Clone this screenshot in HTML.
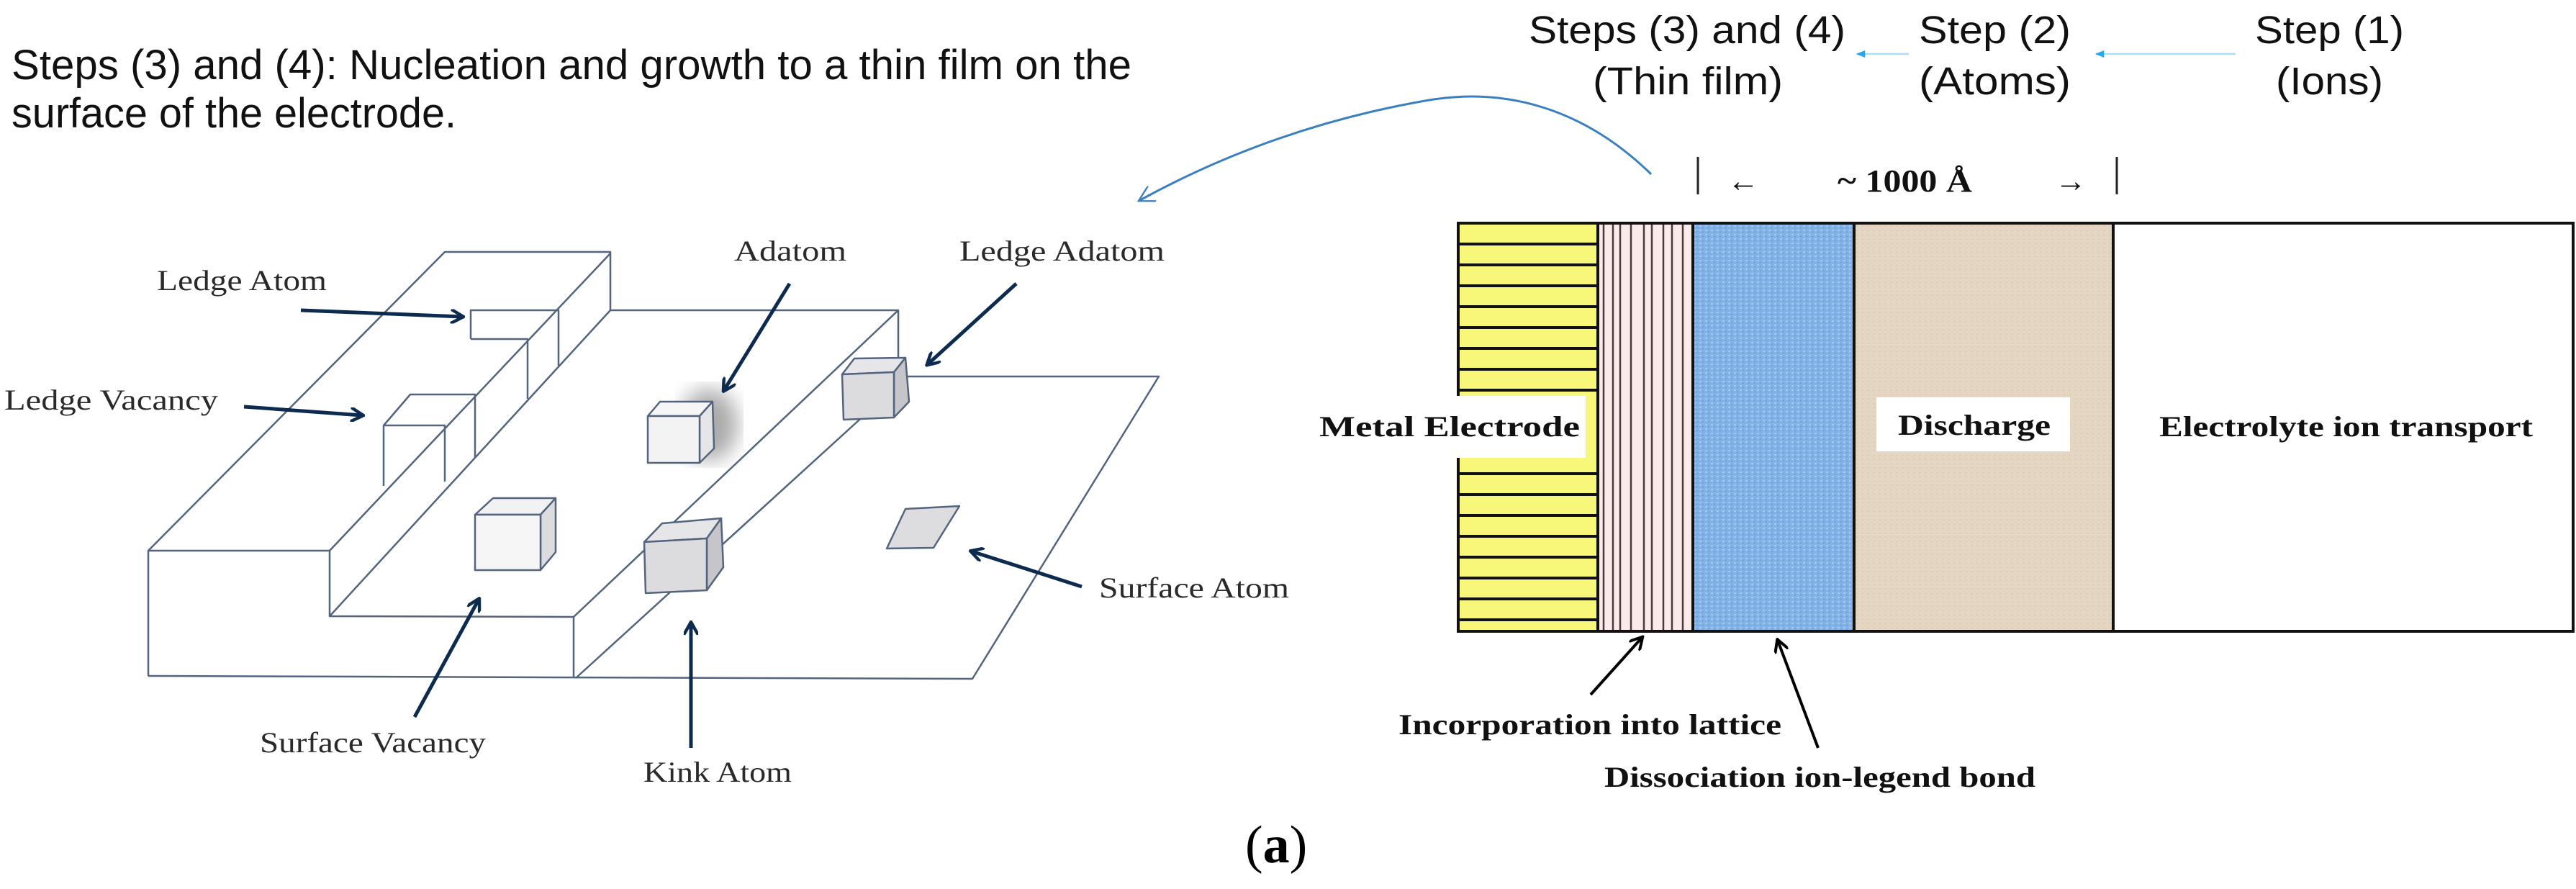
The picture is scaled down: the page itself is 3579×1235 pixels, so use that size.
<!DOCTYPE html>
<html><head><meta charset="utf-8"><style>
html,body{margin:0;padding:0;background:#fff;}
svg{display:block;}
</style></head><body>
<svg width="3579" height="1235" viewBox="0 0 3579 1235" xmlns="http://www.w3.org/2000/svg">
<defs>
<filter id="blur"><feGaussianBlur stdDeviation="14"/></filter>
<marker id="nav" viewBox="0 0 10 10" refX="8" refY="5" markerWidth="4" markerHeight="4" orient="auto"><path d="M0,0 L9,5 L0,10" fill="none" stroke="#0d2a4f" stroke-width="2.2"/></marker>
<marker id="blk" viewBox="0 0 10 10" refX="8" refY="5" markerWidth="5" markerHeight="5" orient="auto"><path d="M0,0 L9,5 L0,10" fill="none" stroke="#000" stroke-width="2"/></marker>
<marker id="lb" viewBox="0 0 10 10" refX="9" refY="5" markerWidth="5" markerHeight="5" orient="auto"><path d="M0,1 L10,5 L0,9 z" fill="#2aa8e8"/></marker>
<marker id="cb" viewBox="0 0 10 10" refX="8" refY="5" markerWidth="8" markerHeight="8" orient="auto"><path d="M0,0 L9,5 L0,10" fill="none" stroke="#3a7fc0" stroke-width="1"/></marker>
<pattern id="blue" width="8" height="6" patternUnits="userSpaceOnUse"><rect width="8" height="6" fill="#82b2e6"/><rect x="1" y="1" width="3" height="2" fill="#a4c8f0"/><rect x="5" y="4" width="2" height="1" fill="#5f93d0"/></pattern>
<pattern id="beige" width="8" height="6" patternUnits="userSpaceOnUse"><rect width="8" height="6" fill="#e4d6c3"/><rect x="2" y="2" width="3" height="1" fill="#d8c8b2"/></pattern>
</defs>

<!-- top-left text -->
<g font-family="Liberation Sans, Arial, sans-serif" font-size="58" fill="#111">
<text x="16" y="110" textLength="1556" lengthAdjust="spacingAndGlyphs">Steps (3) and (4): Nucleation and growth to a thin film on the</text>
<text x="16" y="177" textLength="618" lengthAdjust="spacingAndGlyphs">surface of the electrode.</text>
</g>

<!-- top right step labels -->
<g font-family="Liberation Sans, Arial, sans-serif" font-size="54" fill="#111">
<text x="2124" y="60" textLength="440" lengthAdjust="spacingAndGlyphs">Steps (3) and (4)</text>
<text x="2213" y="131" textLength="264" lengthAdjust="spacingAndGlyphs">(Thin film)</text>
<text x="2666" y="60" textLength="211" lengthAdjust="spacingAndGlyphs">Step (2)</text>
<text x="2666" y="131" textLength="211" lengthAdjust="spacingAndGlyphs">(Atoms)</text>
<text x="3133" y="60" textLength="207" lengthAdjust="spacingAndGlyphs">Step (1)</text>
<text x="3162" y="131" textLength="149" lengthAdjust="spacingAndGlyphs">(Ions)</text>
</g>
<line x1="3106" y1="75" x2="2912" y2="75" stroke="#aedcf5" stroke-width="2.5" marker-end="url(#lb)"/>
<line x1="2652" y1="75" x2="2580" y2="75" stroke="#aedcf5" stroke-width="2.5" marker-end="url(#lb)"/>

<!-- blue curve -->
<path d="M2294,242 C2200,150 2090,120 1980,140 C1820,168 1690,220 1584,278" fill="none" stroke="#3a7fc0" stroke-width="3" marker-end="url(#cb)"/>

<!-- dimension -->
<g font-family="Liberation Serif, serif" font-weight="bold" fill="#111">
<line x1="2359" y1="218" x2="2359" y2="270" stroke="#222" stroke-width="3"/>
<line x1="2941" y1="218" x2="2941" y2="270" stroke="#222" stroke-width="3"/>
<text x="2400" y="266" font-size="44" font-weight="normal">←</text>
<text x="2553" y="266" font-size="44" textLength="187" lengthAdjust="spacingAndGlyphs">~ 1000 Å</text>
<text x="2855" y="266" font-size="44" font-weight="normal">→</text>
</g>

<!-- layered rectangle -->
<rect x="2026" y="310" width="194" height="567" fill="#f7f77a"/>
<g stroke="#111" stroke-width="4">
<line x1="2026" y1="339" x2="2220" y2="339"/><line x1="2026" y1="368" x2="2220" y2="368"/>
<line x1="2026" y1="397" x2="2220" y2="397"/><line x1="2026" y1="426" x2="2220" y2="426"/>
<line x1="2026" y1="455" x2="2220" y2="455"/><line x1="2026" y1="484" x2="2220" y2="484"/>
<line x1="2026" y1="513" x2="2220" y2="513"/><line x1="2026" y1="542" x2="2220" y2="542"/>
<line x1="2026" y1="658" x2="2220" y2="658"/><line x1="2026" y1="687" x2="2220" y2="687"/>
<line x1="2026" y1="716" x2="2220" y2="716"/><line x1="2026" y1="745" x2="2220" y2="745"/>
<line x1="2026" y1="774" x2="2220" y2="774"/><line x1="2026" y1="803" x2="2220" y2="803"/>
<line x1="2026" y1="832" x2="2220" y2="832"/><line x1="2026" y1="861" x2="2220" y2="861"/>
</g>
<rect x="2220" y="310" width="132" height="567" fill="#fbeaea"/>
<g stroke="#4a3a3a" stroke-width="2.5">
<line x1="2228" y1="310" x2="2228" y2="877"/><line x1="2241" y1="310" x2="2241" y2="877"/>
<line x1="2251" y1="310" x2="2251" y2="877"/><line x1="2266" y1="310" x2="2266" y2="877"/>
<line x1="2284" y1="310" x2="2284" y2="877"/><line x1="2295" y1="310" x2="2295" y2="877"/>
<line x1="2311" y1="310" x2="2311" y2="877"/><line x1="2323" y1="310" x2="2323" y2="877"/>
<line x1="2338" y1="310" x2="2338" y2="877"/>
</g>
<rect x="2352" y="310" width="224" height="567" fill="url(#blue)"/>
<rect x="2576" y="310" width="360" height="567" fill="url(#beige)"/>
<rect x="2026" y="310" width="1549" height="567" fill="none" stroke="#111" stroke-width="4"/>
<g stroke="#111" stroke-width="4">
<line x1="2220" y1="310" x2="2220" y2="877"/><line x1="2352" y1="310" x2="2352" y2="877"/>
<line x1="2576" y1="310" x2="2576" y2="877"/><line x1="2936" y1="310" x2="2936" y2="877"/>
</g>
<rect x="1826" y="550" width="377" height="86" fill="#fff"/>
<rect x="2607" y="552" width="269" height="75" fill="#fff"/>
<g font-family="Liberation Serif, serif" font-weight="bold" font-size="40" fill="#111">
<text x="1833" y="606" textLength="362" lengthAdjust="spacingAndGlyphs">Metal Electrode</text>
<text x="2637" y="604" textLength="212" lengthAdjust="spacingAndGlyphs">Discharge</text>
<text x="3000" y="606" textLength="519" lengthAdjust="spacingAndGlyphs">Electrolyte ion transport</text>
<text x="1943" y="1020" textLength="532" lengthAdjust="spacingAndGlyphs">Incorporation into lattice</text>
<text x="2229" y="1093" textLength="599" lengthAdjust="spacingAndGlyphs">Dissociation ion-legend bond</text>
</g>
<line x1="2210" y1="965" x2="2281" y2="886" stroke="#000" stroke-width="4" marker-end="url(#blk)"/>
<line x1="2526" y1="1039" x2="2470" y2="890" stroke="#000" stroke-width="4" marker-end="url(#blk)"/>

<!-- (a) -->
<text x="1730" y="1198" font-family="Liberation Serif, serif" font-size="74" fill="#000">(<tspan font-weight="bold">a</tspan>)</text>

<!-- left 3D diagram -->
<g fill="none" stroke="#53647f" stroke-width="2.5" stroke-linejoin="round">
<!-- left block -->
<polyline points="206,939 206,765 618,350 848,350 848,431"/>
<polyline points="206,765 458,765 458,856 797,857 797,942"/>
<line x1="848" y1="352" x2="458" y2="765"/>
<line x1="848" y1="431" x2="458" y2="856"/>
<!-- middle plateau -->
<polyline points="848,431 1248,431 1248,497"/>
<line x1="1248" y1="431" x2="797" y2="857"/>
<line x1="1260" y1="523" x2="800" y2="942"/>
<!-- lower plateau -->
<polyline points="1260,523 1610,523 1351,943 206,939"/>
<!-- ledge atom notch -->
<polyline points="654,471 654,431 776,431 776,508"/>
<polyline points="654,471 733,471 733,554"/>
<!-- ledge vacancy -->
<polyline points="533,675 533,591 570,548 660,548 660,635"/>
<polyline points="533,591 618,591 618,669"/>
</g>
<!-- cubes -->
<g stroke="#53647f" stroke-width="2.5" stroke-linejoin="round">
<ellipse cx="985" cy="590" rx="40" ry="50" fill="#aaa" filter="url(#blur)" stroke="none"/>
<polygon points="900,578 917,558 990,558 972,578" fill="#f6f6f6"/>
<polygon points="972,578 990,558 992,623 972,643" fill="#e6e6e8"/>
<rect x="900" y="578" width="72" height="65" fill="#f3f3f3"/>

<polygon points="660,715 685,692 772,692 751,715" fill="#f2f2f2"/>
<polygon points="751,715 772,692 772,767 751,792" fill="#dcdcde"/>
<rect x="660" y="715" width="91" height="77" fill="#f6f6f6"/>

<polygon points="895,753 920,727 1002,720 982,748" fill="#e6e6e8"/>
<polygon points="982,748 1002,720 1005,788 982,820" fill="#c6c6ca"/>
<polygon points="895,753 982,748 982,820 897,824" fill="#dcdcde"/>

<polygon points="1170,520 1187,498 1258,497 1242,517" fill="#e6e6e8"/>
<polygon points="1242,517 1258,497 1263,558 1242,580" fill="#c6c6ca"/>
<polygon points="1170,520 1242,517 1242,580 1172,583" fill="#dcdcde"/>

<polygon points="1258,707 1333,703 1297,761 1232,762" fill="#dddde0"/>
</g>
<!-- navy arrows -->
<g stroke="#0d2a4f" stroke-width="5" marker-end="url(#nav)">
<line x1="418" y1="431" x2="642" y2="440"/>
<line x1="339" y1="565" x2="503" y2="577"/>
<line x1="1097" y1="394" x2="1006" y2="542"/>
<line x1="1412" y1="394" x2="1289" y2="506"/>
<line x1="1503" y1="815" x2="1350" y2="766"/>
<line x1="576" y1="996" x2="665" y2="833"/>
<line x1="960" y1="1039" x2="960" y2="866"/>
</g>
<g font-family="Liberation Serif, serif" font-size="40" fill="#2a2a2a">
<text x="218" y="403" textLength="236" lengthAdjust="spacingAndGlyphs">Ledge Atom</text>
<text x="6" y="569" textLength="297" lengthAdjust="spacingAndGlyphs">Ledge  Vacancy</text>
<text x="1020" y="362" textLength="156" lengthAdjust="spacingAndGlyphs">Adatom</text>
<text x="1333" y="362" textLength="285" lengthAdjust="spacingAndGlyphs">Ledge Adatom</text>
<text x="1527" y="830" textLength="264" lengthAdjust="spacingAndGlyphs">Surface Atom</text>
<text x="361" y="1045" textLength="314" lengthAdjust="spacingAndGlyphs">Surface Vacancy</text>
<text x="894" y="1086" textLength="206" lengthAdjust="spacingAndGlyphs">Kink Atom</text>
</g>
</svg>
</body></html>
